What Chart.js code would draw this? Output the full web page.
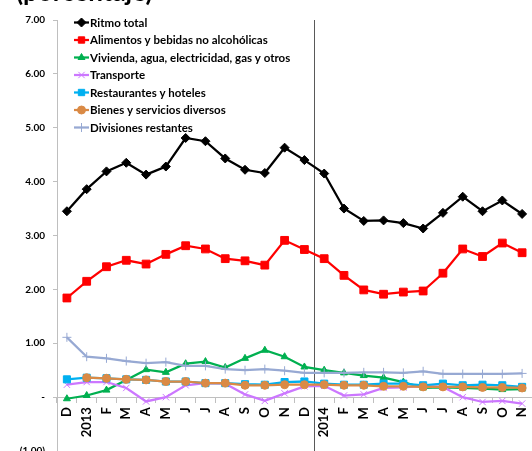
<!DOCTYPE html>
<html>
<head>
<meta charset="utf-8">
<script src="https://cdn.jsdelivr.net/npm/chart.js@4.4.1/dist/chart.umd.min.js"></script>
<style>
  html, body { margin: 0; padding: 0; background: #fff; }
  #grafico { display: block; }
</style>
</head>
<body>
<canvas id="grafico" width="532" height="451"></canvas>
<script>
// Meses (dic 2012 - nov 2014)
const meses = ['D', '2013', 'F', 'M', 'A', 'M', 'J', 'J', 'A', 'S', 'O', 'N',
  'D', '2014', 'F', 'M', 'A', 'M', 'J', 'J', 'A', 'S', 'O', 'N']

const ritmoTotal = [3.45, 3.86, 4.19, 4.35, 4.13, 4.28, 4.81, 4.75, 4.43, 4.22, 4.16, 4.63,
  4.40, 4.15, 3.50, 3.27, 3.28, 3.23, 3.13, 3.42, 3.72, 3.45, 3.65, 3.40]
const alimentos = [1.84, 2.15, 2.42, 2.54, 2.47, 2.65, 2.81, 2.75, 2.57, 2.53, 2.45, 2.91,
  2.74, 2.57, 2.26, 1.99, 1.91, 1.95, 1.97, 2.30, 2.75, 2.61, 2.86, 2.68]
const vivienda = [-0.03, 0.03, 0.13, 0.32, 0.51, 0.46, 0.62, 0.66, 0.55, 0.72, 0.87, 0.75,
  0.56, 0.50, 0.45, 0.40, 0.36, 0.28, 0.17, 0.18, 0.17, 0.16, 0.14, 0.15]
const transporte = [0.23, 0.28, 0.28, 0.17, -0.08, 0.00, 0.22, 0.26, 0.25, 0.05, -0.07, 0.07,
  0.20, 0.21, 0.03, 0.05, 0.17, 0.18, 0.21, 0.19, 0.00, -0.09, -0.07, -0.12]
const restaurantes = [0.33, 0.36, 0.35, 0.33, 0.32, 0.29, 0.29, 0.26, 0.26, 0.24, 0.23, 0.28,
  0.29, 0.25, 0.23, 0.23, 0.25, 0.25, 0.22, 0.25, 0.22, 0.23, 0.22, 0.19]
const bienes = [null, 0.36, 0.35, 0.33, 0.32, 0.29, 0.29, 0.26, 0.26, 0.22, 0.22, 0.23,
  0.23, 0.23, 0.22, 0.22, 0.20, 0.20, 0.19, 0.19, 0.19, 0.18, 0.18, 0.17]
const divisiones = [1.11, 0.75, 0.72, 0.67, 0.63, 0.65, 0.58, 0.58, 0.52, 0.50, 0.52, 0.49,
  0.45, 0.45, 0.45, 0.46, 0.46, 0.45, 0.48, 0.43, 0.43, 0.43, 0.43, 0.44]

const fuente = 'Lato, "Open Sans", sans-serif'

const serie = (label, data, color, pointStyle, radius, order) => ({
  label: label,
  data: data,
  borderColor: color,
  backgroundColor: color,
  borderWidth: 2.25,
  pointStyle: pointStyle,
  pointRadius: radius,
  pointBorderWidth: 1,
  pointBackgroundColor: color,
  pointBorderColor: color,
  tension: 0,
  order: order,
})

const datasets = [
  serie('Ritmo total', ritmoTotal, '#000000', 'rectRot', 4.5, 7),
  serie('Alimentos y bebidas no alcohólicas', alimentos, '#FF0000', 'rect', 5.5, 6),
  serie('Vivienda, agua, electricidad, gas y otros', vivienda, '#00B050', 'triangle', 4, 5),
  serie('Transporte', transporte, '#CC77FF', 'crossRot', 4.5, 4),
  serie('Restaurantes y hoteles', restaurantes, '#00B0F0', 'rect', 5, 3),
  serie('Bienes y servicios diversos', bienes, '#DA8A45', 'circle', 4, 2),
  serie('Divisiones restantes', divisiones, '#97A9D3', 'cross', 4.5, 1),
]

// Línea vertical entre dic 2013 y ene 2014, título cortado y leyenda
const extras = {
  id: 'extras',
  beforeDatasetsDraw(chart) {
    const ctx = chart.ctx
    const x = Math.round(chart.scales.x.getPixelForValue(12.5)) + 0.5
    ctx.save()
    ctx.strokeStyle = '#595959'
    ctx.lineWidth = 1
    ctx.beginPath()
    ctx.moveTo(x, chart.chartArea.top)
    ctx.lineTo(x, chart.chartArea.bottom)
    ctx.stroke()
    ctx.restore()
  },
  afterDraw(chart) {
    const ctx = chart.ctx
    ctx.save()
    ctx.fillStyle = '#000'
    ctx.font = 'bold 26px ' + fuente
    ctx.textBaseline = 'alphabetic'
    ctx.fillText('(porcentaje)', 16, 0.5)

    ctx.font = 'bold 11.5px ' + fuente
    ctx.textBaseline = 'middle'
    chart.data.datasets.forEach((ds, i) => {
      const y = 22.5 + i * 17.5
      ctx.strokeStyle = ds.borderColor
      ctx.fillStyle = ds.borderColor
      ctx.lineWidth = 2.25
      ctx.beginPath()
      ctx.moveTo(74, y)
      ctx.lineTo(89, y)
      ctx.stroke()
      ctx.lineWidth = 1
      Chart.helpers.drawPoint(ctx, {
        pointStyle: ds.pointStyle,
        radius: Math.min(ds.pointRadius, 4.5),
        rotation: 0,
        borderWidth: 1,
      }, 81.5, y)
      ctx.fillStyle = '#000'
      ctx.fillText(ds.label, 90, y + 0.5)
    })
    ctx.restore()
  },
}

const ctx = document.getElementById('grafico').getContext('2d')
const grafico = new Chart(ctx, {
  type: 'line',
  data: {
    labels: meses,
    datasets: datasets,
  },
  options: {
    responsive: false,
    devicePixelRatio: 1,
    animation: false,
    layout: {
      autoPadding: false,
      padding: { top: 20, left: 0, right: -2, bottom: 0 },
    },
    plugins: {
      legend: { display: false },
      tooltip: { enabled: false },
    },
    scales: {
      x: {
        position: { y: 0 },
        offset: true,
        afterFit: (scale) => {
          scale.paddingLeft = 0
          scale.paddingRight = -2
        },
        grid: {
          offset: true,
          drawOnChartArea: false,
          tickLength: 5,
          color: '#BFBFBF',
        },
        border: { color: '#BFBFBF' },
        ticks: {
          autoSkip: false,
          minRotation: 90,
          maxRotation: 90,
          padding: 5,
          color: '#000',
          font: { family: fuente, size: 13, weight: 'bold' },
        },
      },
      y: {
        min: -1,
        max: 7,
        afterFit: (scale) => {
          scale.width = 57
          scale.paddingRight = -2
          scale.paddingTop = 0
          scale.paddingBottom = 0
        },
        grid: {
          drawOnChartArea: false,
          tickLength: 4,
          color: '#BFBFBF',
        },
        border: { color: '#BFBFBF' },
        ticks: {
          stepSize: 1,
          padding: 8,
          color: '#000',
          font: { family: fuente, size: 10, weight: 'bold' },
          callback: (v) => {
            if (v === 0) return '-'
            if (v < 0) return '(' + Math.abs(v).toFixed(2) + ')'
            return v.toFixed(2)
          },
        },
      },
    },
  },
  plugins: [extras],
})
</script>
</body>
</html>
